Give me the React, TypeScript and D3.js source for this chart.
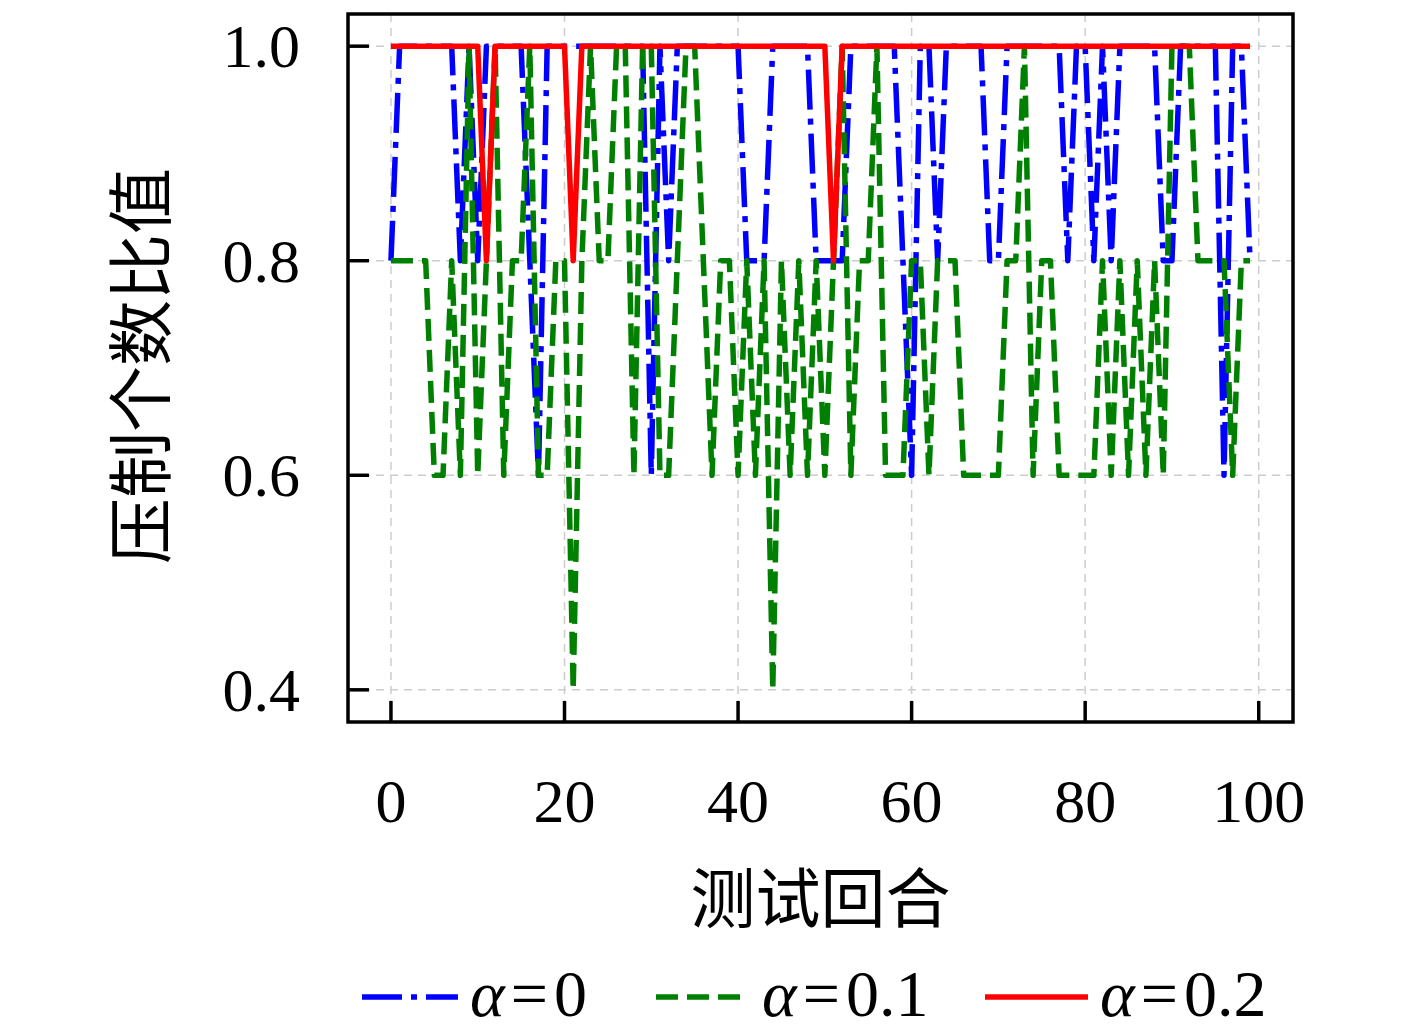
import * as d3 from "d3";

// test rounds 0..99
const rounds: number[] = d3.range(100);

// alpha = 0  (blue, dash-dot)
const alpha0: number[] = [
  0.8, 1, 1, 1, 1, 1, 1, 1, 0.8, 1,
  0.8, 1, 1, 1, 1, 1, 0.8, 0.6, 1, 1,
  1, 1, 1, 1, 1, 1, 1, 1, 1, 1,
  0.6, 1, 0.8, 1, 1, 1, 1, 1, 1, 1,
  1, 0.8, 0.8, 0.8, 1, 1, 1, 1, 1, 0.8,
  0.8, 0.8, 0.8, 1, 1, 1, 1, 1, 1, 0.8,
  0.6, 1, 1, 0.8, 1, 1, 1, 1, 1, 0.8,
  0.8, 1, 1, 1, 1, 1, 1, 1, 0.8, 1,
  1, 0.8, 1, 0.8, 1, 1, 1, 1, 1, 0.8,
  0.8, 1, 1, 1, 1, 1, 0.6, 1, 1, 0.8,
];

// alpha = 0.1  (green, dashed)
const alpha01: number[] = [
  0.8, 0.8, 0.8, 0.8, 0.8, 0.6, 0.6, 0.8, 0.6, 1,
  0.6, 0.8, 1, 0.6, 0.8, 0.8, 1, 0.6, 0.6, 0.8,
  0.8, 0.4, 0.8, 1, 0.8, 0.8, 1, 1, 0.6, 1,
  1, 0.6, 0.6, 0.8, 1, 1, 0.8, 0.6, 0.8, 0.8,
  0.6, 0.8, 0.6, 0.8, 0.4, 0.8, 0.6, 0.8, 0.6, 0.8,
  0.6, 0.8, 1, 0.6, 0.8, 0.8, 1, 0.6, 0.6, 0.6,
  0.8, 0.8, 0.6, 0.8, 0.8, 0.8, 0.6, 0.6, 0.6, 0.6,
  0.6, 0.8, 0.8, 1, 0.6, 0.8, 0.8, 0.6, 0.6, 0.6,
  0.6, 0.6, 0.8, 0.6, 0.8, 0.6, 0.8, 0.6, 0.8, 0.6,
  1, 1, 1, 0.8, 0.8, 0.8, 0.8, 0.6, 0.8, 0.8,
];

// alpha = 0.2  (red, solid)
const alpha02: number[] = [
  1, 1, 1, 1, 1, 1, 1, 1, 1, 1,
  1, 0.8, 1, 1, 1, 1, 1, 1, 1, 1,
  1, 0.8, 1, 1, 1, 1, 1, 1, 1, 1,
  1, 1, 1, 1, 1, 1, 1, 1, 1, 1,
  1, 1, 1, 1, 1, 1, 1, 1, 1, 1,
  1, 0.8, 1, 1, 1, 1, 1, 1, 1, 1,
  1, 1, 1, 1, 1, 1, 1, 1, 1, 1,
  1, 1, 1, 1, 1, 1, 1, 1, 1, 1,
  1, 1, 1, 1, 1, 1, 1, 1, 1, 1,
  1, 1, 1, 1, 1, 1, 1, 1, 1, 1,
];

const xTicks = [0, 20, 40, 60, 80, 100];
const yTicks = [0.4, 0.6, 0.8, 1.0];
const seriesNames = ["0", "0.1", "0.2"];

const W = 1417;
const H = 1030;
const left = 348, right = 1293, top = 14, bottom = 722;

const NUM_FONT = "'Liberation Serif', 'DejaVu Serif', serif";
const CJK_FONT = "'Noto Sans CJK SC', sans-serif";

const App = () => {
  const x = d3.scaleLinear().domain([-4.95, 103.95]).range([left, right]);
  const y = d3.scaleLinear().domain([0.37, 1.03]).range([bottom, top]);

  const line = d3
    .line<number>()
    .x((_, i) => x(rounds[i]))
    .y((d) => y(d));

  const series = [
    { data: alpha0, color: "#0000ff", dash: "40 9 6 9" },
    { data: alpha01, color: "#008000", dash: "22 9" },
    { data: alpha02, color: "#ff0000", dash: "none" },
  ];

  const legendX = [362, 656, 985];
  const legendLen = [96, 84, 103];
  const legendTextX = [470, 762, 1100];

  return (
    <svg
      width={W}
      height={H}
      style={{ position: "absolute", left: 0, top: 0, background: "#fff" }}
    >
      {/* grid */}
      <g stroke="#cccccc" strokeWidth={1.5} strokeDasharray="8 6">
        {xTicks.map((t) => (
          <line key={"gx" + t} x1={x(t)} x2={x(t)} y1={top} y2={bottom} />
        ))}
        {yTicks.map((t) => (
          <line key={"gy" + t} x1={left} x2={right} y1={y(t)} y2={y(t)} />
        ))}
      </g>

      {/* series */}
      {series.map((s, i) => (
        <path
          key={i}
          d={line(s.data) || ""}
          fill="none"
          stroke={s.color}
          strokeWidth={5.5}
          strokeDasharray={s.dash}
          strokeLinejoin="round"
        />
      ))}

      {/* ticks */}
      <g stroke="#000" strokeWidth={3.5}>
        {xTicks.map((t) => (
          <line key={"tx" + t} x1={x(t)} x2={x(t)} y1={bottom} y2={bottom - 21} />
        ))}
        {yTicks.map((t) => (
          <line key={"ty" + t} x1={left} x2={left + 21} y1={y(t)} y2={y(t)} />
        ))}
      </g>

      {/* frame */}
      <rect
        x={left}
        y={top}
        width={right - left}
        height={bottom - top}
        fill="none"
        stroke="#000"
        strokeWidth={3.5}
      />

      {/* tick labels */}
      <g fontFamily={NUM_FONT} fontSize={62} fill="#000">
        {xTicks.map((t) => (
          <text key={"lx" + t} x={x(t)} y={822} textAnchor="middle">
            {t}
          </text>
        ))}
        {yTicks.map((t) => (
          <text key={"ly" + t} x={300} y={y(t) + 21} textAnchor="end">
            {t.toFixed(1)}
          </text>
        ))}
      </g>

      {/* axis titles */}
      <text
        x={(left + right) / 2}
        y={922}
        textAnchor="middle"
        fontFamily={CJK_FONT}
        fontSize={65}
        fill="#000"
      >
        测试回合
      </text>
      <text
        transform={`translate(165,${(top + bottom) / 2 - 2}) rotate(-90)`}
        textAnchor="middle"
        fontFamily={CJK_FONT}
        fontSize={66}
        fill="#000"
      >
        压制个数比值
      </text>

      {/* legend */}
      {series.map((s, i) => (
        <g key={"lg" + i}>
          <line
            x1={legendX[i]}
            x2={legendX[i] + legendLen[i]}
            y1={997}
            y2={997}
            stroke={s.color}
            strokeWidth={5.5}
            strokeDasharray={s.dash}
          />
          <text
            x={legendTextX[i]}
            y={1016}
            fontFamily={NUM_FONT}
            fontSize={66}
            fill="#000"
          >
            <tspan fontStyle="italic">α</tspan>
            <tspan dx={6}>=</tspan>
            <tspan dx={6}>{seriesNames[i]}</tspan>
          </text>
        </g>
      ))}
    </svg>
  );
};

export default App;
